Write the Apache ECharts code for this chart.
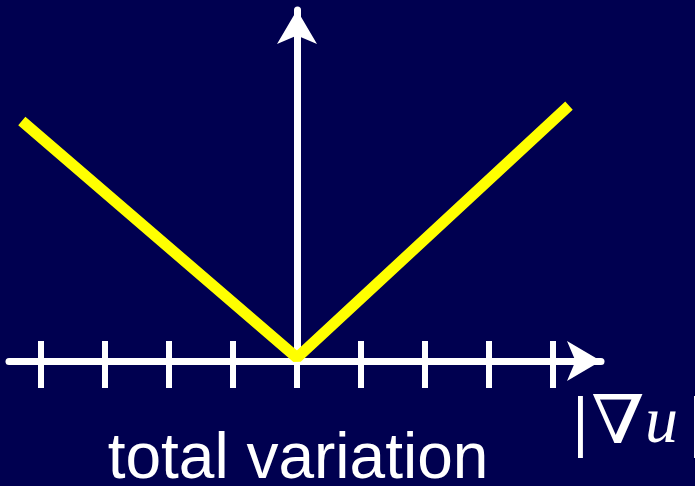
<!DOCTYPE html>
<html>
<head>
<meta charset="utf-8">
<script src="https://cdn.jsdelivr.net/npm/echarts@6/dist/echarts.min.js"></script>
<style>
  html, body { margin: 0; padding: 0; background: #000050; }
  #chart { width: 695px; height: 486px; }
</style>
</head>
<body>
<div id="chart"></div>
<script>
// V-shaped penalty |x|
const xValues = [-4.3, 0, 4.25];
const yValues = [3.74, 0.05, 3.98];
const tickValues = [-4, -3, -2, -1, 0, 1, 2, 3, 4];
const xLabel = 'total variation';

const chart = echarts.init(document.getElementById('chart'));

const hiddenLabel = { show: false };
const arrowSize = [30, 34];

chart.setOption({
    backgroundColor: '#000050',
    animation: false,
    grid: { left: 9, right: 94, top: 10, bottom: 125 },
    xAxis: [
        {
            type: 'value', min: -4.5, max: 4.75,
            axisLine: {
                onZero: false,
                symbol: ['none', 'arrow'],
                symbolSize: arrowSize,
                lineStyle: { color: '#fff', width: 7 }
            },
            axisTick: {
                show: true, inside: false, length: 27,
                customValues: tickValues,
                lineStyle: { color: '#fff', width: 6 }
            },
            axisLabel: hiddenLabel,
            splitLine: { show: false }
        },
        {
            type: 'value', min: -4.5, max: 4.75, position: 'bottom',
            axisLine: { show: false, onZero: false },
            axisTick: {
                show: true, inside: true, length: 20,
                customValues: tickValues,
                lineStyle: { color: '#fff', width: 6 }
            },
            axisLabel: hiddenLabel,
            splitLine: { show: false }
        }
    ],
    yAxis: {
        type: 'value', min: 0, max: 5.47,
        axisLine: {
            show: true,
            onZero: true,
            symbol: ['none', 'arrow'],
            symbolSize: arrowSize,
            lineStyle: { color: '#fff', width: 7 }
        },
        axisTick: { show: false },
        axisLabel: hiddenLabel,
        splitLine: { show: false }
    },
    series: [{
        type: 'line',
        data: xValues.map((x, i) => [x, yValues[i]]),
        symbol: 'none',
        clip: false,
        lineStyle: { color: '#ffff00', width: 11 }
    }],
    graphic: [
        {
            type: 'text',
            x: 298, y: 428,
            style: {
                text: xLabel,
                fill: '#fff',
                align: 'center',
                verticalAlign: 'top',
                font: '64px "Liberation Sans", Arial, sans-serif'
            }
        },
        // |∇u| drawn as separate glyphs
        {
            type: 'text', x: 570, y: 396,
            style: { text: '|', fill: '#fff', verticalAlign: 'top', font: '62px "DejaVu Serif", serif' }
        },
        {
            type: 'text', x: 591, y: 392, scaleX: 1.15,
            style: { text: '\u2207', fill: '#fff', verticalAlign: 'top', font: '67px "DejaVu Serif", serif' }
        },
        {
            type: 'text', x: 645, y: 392,
            style: { text: 'u', fill: '#fff', verticalAlign: 'top', font: 'italic 66px "Liberation Serif", serif' }
        },
        {
            type: 'text', x: 686, y: 396,
            style: { text: '|', fill: '#fff', verticalAlign: 'top', font: '62px "DejaVu Serif", serif' }
        }
    ]
});
</script>
</body>
</html>
